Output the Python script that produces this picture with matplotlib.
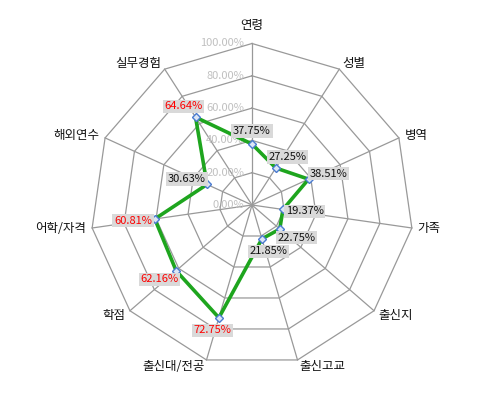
import numpy as np
import matplotlib
matplotlib.use("Agg")
import matplotlib.pyplot as plt

plt.rcParams['font.family'] = ['Noto Sans CJK KR', 'DejaVu Sans']

# data
categories = ['연령', '성별', '병역', '가족', '출신지', '출신고교',
              '출신대/전공', '학점', '어학/자격', '해외연수', '실무경험']
values = [37.75, 27.25, 38.51, 19.37, 22.75, 21.85, 72.75, 62.16, 60.81, 30.63, 64.64]
ring_ticks = [0, 20, 40, 60, 80, 100]

n = len(categories)
theta = 2 * np.pi * np.arange(n) / n   # clockwise from top


def to_xy(r, t):
    return r * np.sin(t), r * np.cos(t)


fig = plt.figure(figsize=(5, 4), dpi=100)
ax = fig.add_axes([0, 0, 1, 1])
# center at pixel (252, 205), 1.615 px per unit
scale = 1.615
ax.set_xlim(-252 / scale, (500 - 252) / scale)
ax.set_ylim(-(400 - 205) / scale, 205 / scale)
ax.axis('off')

grid_color = '#999999'
tt = np.append(theta, theta[0])
for r in ring_ticks[1:]:
    gx, gy = to_xy(r, tt)
    ax.plot(gx, gy, color=grid_color, lw=0.9, zorder=1)
for t in theta:
    sx, sy = to_xy(np.array([0, 100]), t)
    ax.plot(sx, sy, color=grid_color, lw=0.9, zorder=1)

# ring value labels
for r in ring_ticks:
    ax.text(-8 / scale, r, f'{r:.2f}%', ha='right', va='center',
            fontsize=8, color='#c0c0c0', zorder=2)

# category labels
for cat, t in zip(categories, theta):
    vx, vy = to_xy(100, t)
    s, c = np.sin(t), np.cos(t)
    if abs(s) < 0.05:
        ax.annotate(cat, (vx, vy), xytext=(0, 11), textcoords='offset pixels',
                    ha='center', va='bottom', fontsize=9, color='#111111')
    else:
        ax.annotate(cat, (vx, vy), xytext=(6 * s, 7 * c), textcoords='offset pixels',
                    ha='left' if s > 0 else 'right', va='center',
                    fontsize=9, color='#111111')

# data series
vals = np.array(values)
px, py = to_xy(vals, theta)
ax.plot(np.append(px, px[0]), np.append(py, py[0]), color='#1ea51e', lw=2.6, zorder=3)
ax.plot(px, py, ls='none', marker='D', ms=4.5, mfc='#dce6f5', mec='#4a7bd0', mew=1.0, zorder=4)

# data labels
for v, t, x, y in zip(values, theta, px, py):
    col = '#ff0000' if v > 50 else '#111111'
    ax.annotate(f'{v:.2f}%', (x, y), xytext=(22 * np.sin(t), 13 * np.cos(t)),
                textcoords='offset pixels', ha='center', va='center',
                fontsize=8, color=col, zorder=5,
                bbox=dict(boxstyle='square,pad=0.15', fc='#d9d9d9', ec='none'))

fig.savefig('out.png', dpi=100)
